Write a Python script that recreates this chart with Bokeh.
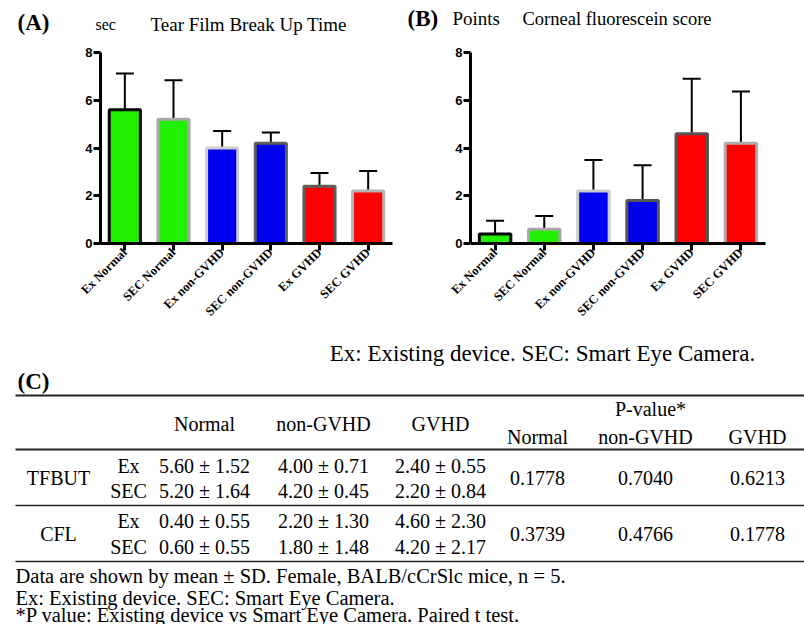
import math
from bokeh.plotting import figure
from bokeh.models import FactorRange, Whisker, TeeHead, ColumnDataSource
from bokeh.layouts import column, row
from bokeh.core.properties import value
from bokeh.embed import file_html
from bokeh.resources import INLINE

# ---------------- data ----------------
categories = ["Ex Normal", "SEC Normal", "Ex non-GVHD", "SEC non-GVHD", "Ex GVHD", "SEC GVHD"]
tfbut_mean = [5.60, 5.20, 4.00, 4.20, 2.40, 2.20]
tfbut_sd = [1.52, 1.64, 0.71, 0.45, 0.55, 0.84]
cfl_mean = [0.40, 0.60, 2.20, 1.80, 4.60, 4.20]
cfl_sd = [0.55, 0.55, 1.30, 1.48, 2.30, 2.17]
y_ticks = [0, 2, 4, 6, 8]

fill_colors = ["#22f000", "#22f000", "#0000f0", "#0000f0", "#ff0000", "#ff0000"]
tfbut_edges = ["#000000", "#a8a8a8", "#cccccc", "#5e5e5e", "#5e5e5e", "#b4b4b4"]
cfl_edges = ["#000000", "#a8a8a8", "#cccccc", "#555555", "#555555", "#acacac"]

panel_labels = ["(A)", "(B)"]
panel_units = ["sec", "Points"]
panel_titles = ["Tear Film Break Up Time", "Corneal fluorescein score"]

table_groups = ["Normal", "non-GVHD", "GVHD"]
table_measures = ["TFBUT", "CFL"]
table_devices = ["Ex", "SEC"]
tfbut_p = ["0.1778", "0.7040", "0.6213"]
cfl_p = ["0.3739", "0.4766", "0.1778"]
pvalue_header = "P-value*"
caption_top = "Ex: Existing device. SEC: Smart Eye Camera."
footnotes = [
    "Data are shown by mean \u00b1 SD. Female, BALB/cCrSlc mice, n = 5.",
    "Ex: Existing device. SEC: Smart Eye Camera.",
    "*P value:  Existing device vs Smart Eye Camera. Paired t test.",
]

SERIF = "Liberation Serif"
SANS = "Liberation Sans"
HEAD_H = 38
TOP_H = 341 - HEAD_H


def bar_chart(mean, sd, edges, width, left, right, top, frame_h):
    src = ColumnDataSource(dict(cat=categories, mean=mean,
                                top=[m + s for m, s in zip(mean, sd)],
                                fill=fill_colors, edge=edges))
    p = figure(x_range=FactorRange(factors=categories, range_padding=0),
               y_range=(0, 8), width=width, height=TOP_H,
               output_backend="svg", toolbar_location=None,
               min_border_left=left, min_border_right=right,
               min_border_top=top, min_border_bottom=TOP_H - top - frame_h)
    p.outline_line_color = None
    p.grid.visible = False
    p.vbar(x="cat", top="mean", width=0.64, fill_color="fill",
           line_color="edge", line_width=3, source=src)
    p.add_layout(Whisker(source=src, base="cat", upper="top", lower="mean",
                         dimension="height", line_width=2, line_color="black",
                         upper_head=TeeHead(size=18, line_width=2, line_color="black"),
                         lower_head=None))
    for ax in (p.xaxis, p.yaxis):
        ax.axis_line_width = 3
        ax.axis_line_color = "black"
        ax.major_tick_line_width = 3
        ax.major_tick_line_color = "black"
        ax.major_tick_in = 0
        ax.minor_tick_line_color = None
    p.yaxis.ticker = y_ticks
    p.yaxis.major_tick_out = 7
    p.yaxis.major_label_standoff = 1
    p.yaxis.major_label_text_font = SANS
    p.yaxis.major_label_text_font_style = "bold"
    p.yaxis.major_label_text_font_size = "13px"
    p.yaxis.major_label_text_color = "black"
    p.xaxis.major_tick_out = 7
    p.xaxis.major_label_orientation = math.pi / 4
    p.xaxis.major_label_standoff = 0
    p.xaxis.major_label_text_font = SERIF
    p.xaxis.major_label_text_font_style = "bold"
    p.xaxis.major_label_text_font_size = "12.5px"
    p.xaxis.major_label_text_color = "black"
    return p


# ---------------- header with panel titles ----------------
ph = figure(width=804, height=HEAD_H, x_range=(0, 804), y_range=(HEAD_H, 0),
            x_axis_type=None, y_axis_type=None, output_backend="svg",
            toolbar_location=None, min_border_left=0, min_border_right=0,
            min_border_top=0, min_border_bottom=0)
ph.outline_line_color = None
ph.grid.visible = False
label_x = [17, 407]
label_y = [22, 18]
unit_x = [95, 452]
title_x = [150, 522]
ph.text(x=label_x, y=label_y, text=panel_labels, text_baseline="middle",
        text_font=value(SERIF), text_font_style="bold", text_font_size="23px", text_color="black")
ph.text(x=unit_x, y=[24, 18], text=panel_units, text_baseline="middle",
        text_font=value(SERIF), text_font_size=["16px", "19px"], text_color="black")
ph.text(x=title_x, y=[24, 18], text=panel_titles, text_baseline="middle",
        text_font=value(SERIF), text_font_size=["19px", "18.5px"], text_color="black")

pA = bar_chart(tfbut_mean, tfbut_sd, tfbut_edges, 402, 100, 10, 52 - HEAD_H, 194)
pB = bar_chart(cfl_mean, cfl_sd, cfl_edges, 402, 68, 39, 47 - HEAD_H, 196)

# ---------------- table ----------------
T0 = HEAD_H + TOP_H
H = 624 - T0
pt = figure(width=804, height=H, x_range=(0, 804), y_range=(H, 0),
            x_axis_type=None, y_axis_type=None, output_backend="svg",
            toolbar_location=None, min_border_left=0, min_border_right=0,
            min_border_top=0, min_border_bottom=0)
pt.outline_line_color = None
pt.grid.visible = False


def Y(a):
    return a - T0


group_x = [204, 323, 440]
pval_x = [537, 645, 757]
measure_rows = [(465, 490), (520, 546)]
means = [tfbut_mean, cfl_mean]
sds = [tfbut_sd, cfl_sd]
pvals = [tfbut_p, cfl_p]

tx, ty, tt = [], [], []


def add(x, y, t):
    tx.append(x); ty.append(Y(y)); tt.append(t)


for g, gx in zip(table_groups, group_x):
    add(gx, 423, g)
add(650, 408, pvalue_header)
for g, px in zip(table_groups, pval_x):
    add(px, 436, g)
for mi, meas in enumerate(table_measures):
    r0, r1 = measure_rows[mi]
    add(58, (r0 + r1) / 2, meas)
    for di, (dev, ry) in enumerate(zip(table_devices, (r0, r1))):
        add(128, ry, dev)
        for gi, gx in enumerate(group_x):
            k = gi * 2 + di
            add(gx, ry, f"{means[mi][k]:.2f} \u00b1 {sds[mi][k]:.2f}")
    for gi, px in enumerate(pval_x):
        add(px, (r0 + r1) / 2, pvals[mi][gi])

src_t = ColumnDataSource(dict(x=tx, y=ty, t=tt))
pt.text(x="x", y="y", text="t", text_align="center", text_baseline="middle",
        text_font=value(SERIF), text_font_size="20px", text_color="black", source=src_t)

# captions
pt.text(x=[542], y=[Y(353)], text=[caption_top], text_align="center", text_baseline="middle",
        text_font=value(SERIF), text_font_size="23px", text_color="black")
pt.text(x=[17], y=[Y(381)], text=["(C)"], text_align="left", text_baseline="middle",
        text_font=value(SERIF), text_font_style="bold", text_font_size="23px", text_color="black")
foot_y = [575, 597, 614]
pt.text(x=[15] * len(footnotes), y=[Y(v) for v in foot_y], text=footnotes,
        text_align="left", text_baseline="middle",
        text_font=value(SERIF), text_font_size="20.5px", text_color="black")

# rules
rule_y = [395, 449, 505, 561]
rule_w = [2, 2, 1.5, 1.5]
pt.segment(x0=[15] * 4, x1=[804] * 4, y0=[Y(v) for v in rule_y], y1=[Y(v) for v in rule_y],
           line_width=rule_w, line_color="#222222")

layout = column(ph, row(pA, pB), pt)
open("out.html", "w").write(file_html(layout, INLINE))
